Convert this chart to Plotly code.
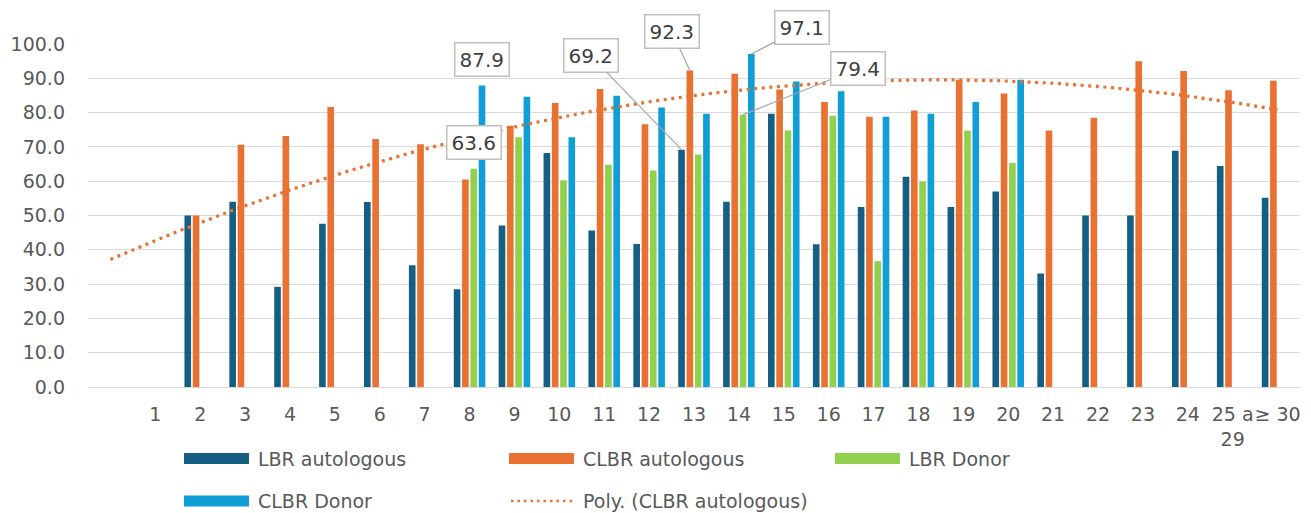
import numpy as np
import plotly.graph_objects as go

# ---------------- data ----------------
categories = ["", "1", "2", "3", "4", "5", "6", "7", "8", "9", "10", "11", "12", "13",
              "14", "15", "16", "17", "18", "19", "20", "21", "22", "23", "24",
              "25 a<br>29", "≥ 30"]

lbr_autologous = [None, None, 50.0, 54.0, 29.2, 47.6, 53.9, 35.5, 28.5, 47.1, 68.2, 45.6,
                  41.7, 69.2, 54.0, 79.7, 41.6, 52.5, 61.3, 52.5, 57.0, 33.1, 50.0, 50.0,
                  68.9, 64.4, 55.2]
# category "1" holds a zero value (counted by the Excel trendline)
clbr_autologous = [None, 0.0, 50.0, 70.6, 73.2, 81.6, 72.3, 70.8, 60.5, 76.2, 82.8, 86.9,
                   76.6, 92.3, 91.3, 86.7, 83.1, 78.8, 80.6, 89.6, 85.6, 74.8, 78.5, 95.0,
                   92.1, 86.5, 89.3]
lbr_donor = [None, None, None, None, None, None, None, None, 63.6, 72.8, 60.3, 64.8, 63.1,
             67.8, 79.4, 74.8, 79.1, 36.7, 59.9, 74.8, 65.3, None, None, None, None, None,
             None]
clbr_donor = [None, None, None, None, None, None, None, None, 87.9, 84.6, 72.8, 84.9, 81.5,
              79.7, 97.1, 89.1, 86.2, 78.8, 79.7, 83.1, 89.6, None, None, None, None, None,
              None]

series_names = ["LBR autologous", "CLBR autologous", "LBR Donor", "CLBR Donor"]
series_values = [lbr_autologous, clbr_autologous, lbr_donor, clbr_donor]
series_colors = ["#156082", "#E97132", "#92D050", "#0F9ED5"]

FONT = "DejaVu Sans, Verdana, sans-serif"

# ---------------- layout geometry ----------------
W, H = 1311, 513
ML, MR, MT, MB = 88, 11, 44, 126
PW, PH = W - ML - MR, H - MT - MB
BARGAP = 0.26

def px_x(px):
    return (px - ML) / PW

def px_y(py):
    return (H - MB - py) / PH

xs = list(range(len(categories)))

fig = go.Figure()
for name, vals, col in zip(series_names, series_values, series_colors):
    fig.add_trace(go.Bar(x=xs, y=vals, name=name, marker_color=col,
                         marker_line_width=0, showlegend=False, hoverinfo="x+y+name"))

# polynomial (order 2) trendline of CLBR autologous over its non-empty cells
tx = np.array([i for i, v in enumerate(clbr_autologous) if v is not None], dtype=float)
ty = np.array([v for v in clbr_autologous if v is not None], dtype=float)
coef = np.polyfit(tx, ty, 2)
grid = np.linspace(0, len(categories) - 1, 300)
fig.add_trace(go.Scatter(x=grid, y=np.polyval(coef, grid), mode="lines",
                         line=dict(color="#E97132", width=3.2, dash="3px,4.6px"),
                         name="Poly. (CLBR autologous)", showlegend=False, hoverinfo="skip"))

# ---------------- data callouts ----------------
n_series = len(series_names)
slot = (1 - BARGAP) / n_series

def bar_x(idx, s):
    return idx + (-(1 - BARGAP) / 2 + slot * (s + 0.5))

callouts = [  # (category index, series index, ax, ay, arrow)
    (8, 3, 0, -26, False),
    (8, 2, 0, -26, False),
    (13, 0, -91, -94, True),
    (13, 1, -18, -39, True),
    (14, 3, 51, -26, True),
    (14, 2, 115, -46, True),
]
annotations = []
for idx, s, ax, ay, arrow in callouts:
    v = series_values[s][idx]
    common = dict(x=bar_x(idx, s), y=v, xref="x", yref="y", text=f"{v:.1f}",
                  font=dict(family=FONT, size=20, color="#404040"),
                  bgcolor="white", bordercolor="#BFBFBF", borderwidth=1.5, borderpad=4)
    if arrow:
        annotations.append(dict(**common, showarrow=True, ax=ax, ay=ay, arrowhead=0,
                                arrowwidth=1.2, arrowcolor="#A6A6A6", standoff=0))
    else:
        annotations.append(dict(**common, showarrow=False, yshift=-ay))

# ---------------- custom legend ----------------
legend_items = [  # (name, kind, color)
    ("LBR autologous", "bar", "#156082"),
    ("CLBR autologous", "bar", "#E97132"),
    ("LBR Donor", "bar", "#92D050"),
    ("CLBR Donor", "bar", "#0F9ED5"),
    ("Poly. (CLBR autologous)", "dot", "#E97132"),
]
shapes = []
col_x = [184, 509, 835]
row_y = [458.5, 501]
for k, (name, kind, col) in enumerate(legend_items):
    x0 = col_x[k % 3]
    yc = row_y[k // 3]
    if kind == "bar":
        shapes.append(dict(type="rect", xref="paper", yref="paper",
                           x0=px_x(x0), x1=px_x(x0 + 65), y0=px_y(yc + 5.5), y1=px_y(yc - 5.5),
                           fillcolor=col, line=dict(width=0)))
    else:
        shapes.append(dict(type="line", xref="paper", yref="paper",
                           x0=px_x(x0 + 2), x1=px_x(x0 + 65), y0=px_y(yc), y1=px_y(yc),
                           line=dict(color=col, width=2.5, dash="2.5px,4px")))
    annotations.append(dict(x=px_x(x0 + 72), y=px_y(yc), xref="paper", yref="paper",
                            text=name, showarrow=False, xanchor="left", yanchor="middle",
                            font=dict(family=FONT, size=19, color="#595959")))

fig.update_layout(
    width=W, height=H,
    margin=dict(l=ML, r=MR, t=MT, b=MB, pad=0),
    paper_bgcolor="white", plot_bgcolor="white",
    barmode="group", bargap=BARGAP, bargroupgap=0.2,
    font=dict(family=FONT, size=19, color="#595959"),
    showlegend=False,
    annotations=annotations,
    shapes=shapes,
)
fig.update_xaxes(
    range=[-0.5, len(categories) - 0.5],
    tickmode="array", tickvals=xs, ticktext=categories,
    showgrid=False, zeroline=False, showline=False,
    ticks="", ticklabelstandoff=14, tickangle=0,
    tickfont=dict(family=FONT, size=19, color="#595959"),
)
fig.update_yaxes(
    range=[0, 100], dtick=10, tickformat=".1f",
    showgrid=True, gridcolor="#D9D9D9", gridwidth=1.3,
    zeroline=True, zerolinecolor="#D9D9D9", zerolinewidth=1.3,
    showline=False, ticks="", ticklabelstandoff=22,
    tickfont=dict(family=FONT, size=19, color="#595959"),
)

fig.write_html("out.html", config={"displayModeBar": False},
               post_script="document.body.style.margin='0';")
